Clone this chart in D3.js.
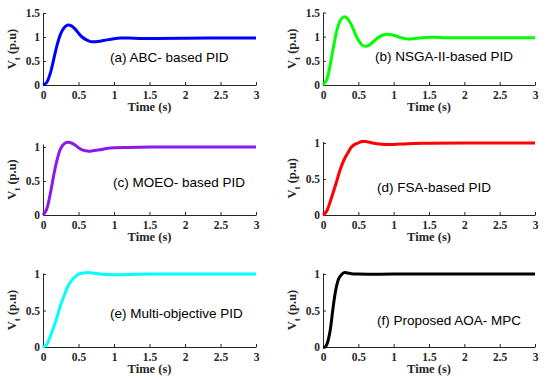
<!DOCTYPE html>
<html>
<head>
<meta charset="utf-8">
<script src="https://cdn.jsdelivr.net/npm/d3@7"></script>
<style>
  html, body { margin: 0; padding: 0; background: #fff; }
  svg { display: block; }
</style>
</head>
<body>
<div id="chart"></div>
<script>
// step responses (time in s, terminal voltage in p.u)
const timeA = [0, 0.05, 0.1, 0.15, 0.2, 0.25, 0.3, 0.35, 0.4, 0.45, 0.5, 0.55, 0.6, 0.65, 0.7, 0.75, 0.8, 0.9, 1.0, 1.1, 1.2, 1.4, 1.6, 2.0, 2.5, 3.0];
const voltA = [0, 0.05, 0.23, 0.53, 0.84, 1.07, 1.2, 1.25, 1.23, 1.17, 1.08, 1.0, 0.95, 0.915, 0.9, 0.9, 0.91, 0.94, 0.965, 0.98, 0.98, 0.97, 0.97, 0.975, 0.98, 0.98];

const timeB = [0, 0.05, 0.1, 0.15, 0.2, 0.25, 0.3, 0.35, 0.4, 0.45, 0.5, 0.55, 0.6, 0.65, 0.7, 0.8, 0.9, 1.0, 1.1, 1.2, 1.3, 1.4, 1.5, 1.7, 2.0, 2.5, 3.0];
const voltB = [0, 0.1, 0.4, 0.8, 1.15, 1.35, 1.41, 1.37, 1.25, 1.08, 0.93, 0.83, 0.8, 0.82, 0.88, 1.0, 1.05, 1.03, 0.98, 0.95, 0.96, 0.98, 0.99, 0.98, 0.98, 0.98, 0.98];

const timeC = [0, 0.05, 0.1, 0.15, 0.2, 0.25, 0.3, 0.35, 0.4, 0.45, 0.5, 0.55, 0.6, 0.65, 0.7, 0.8, 0.9, 1.0, 1.2, 1.5, 2.0, 3.0];
const voltC = [0, 0.08, 0.3, 0.58, 0.82, 0.98, 1.05, 1.07, 1.06, 1.03, 0.99, 0.96, 0.945, 0.94, 0.945, 0.96, 0.98, 0.99, 0.995, 1.0, 1.0, 1.0];

const timeD = [0, 0.05, 0.1, 0.15, 0.2, 0.25, 0.3, 0.35, 0.4, 0.45, 0.5, 0.55, 0.6, 0.7, 0.8, 0.9, 1.0, 1.2, 1.5, 2.0, 3.0];
const voltD = [0, 0.05, 0.18, 0.33, 0.49, 0.65, 0.77, 0.86, 0.94, 0.98, 1.0, 1.02, 1.02, 1.0, 0.985, 0.98, 0.98, 0.99, 0.995, 1.0, 1.0];

const timeE = [0, 0.05, 0.1, 0.15, 0.2, 0.25, 0.3, 0.35, 0.4, 0.45, 0.5, 0.6, 0.7, 0.8, 0.9, 1.0, 1.2, 1.5, 2.0, 3.0];
const voltE = [0, 0.03, 0.14, 0.27, 0.42, 0.58, 0.71, 0.83, 0.91, 0.96, 1.0, 1.02, 1.015, 1.0, 0.995, 0.99, 0.995, 1.0, 1.0, 1.0];

const timeF = [0, 0.03, 0.06, 0.1, 0.14, 0.18, 0.22, 0.26, 0.3, 0.35, 0.4, 0.5, 1.0, 2.0, 3.0];
const voltF = [0, 0.0, 0.05, 0.22, 0.52, 0.78, 0.93, 0.99, 1.02, 1.015, 1.005, 1.0, 1.0, 1.0, 1.0];

const xTicks = [0, 0.5, 1, 1.5, 2, 2.5, 3];
const xTickLabels = ['0', '0.5', '1', '1.5', '2', '2.5', '3'];
const yTicksTall = [0, 0.5, 1, 1.5];
const yTicksShort = [0, 0.5, 1];
const captions = ['(a) ABC- based PID', '(b) NSGA-II-based PID', '(c) MOEO- based PID',
                  '(d) FSA-based PID', '(e) Multi-objective PID', '(f) Proposed AOA- MPC'];
const colors = ['#0000ff', '#00ff00', '#8b1ae8', '#ff0000', '#00ffff', '#000000'];

const W = 550, H = 380;
const svg = d3.select('#chart').append('svg').attr('width', W).attr('height', H);

// panel boxes: left/right pixel of x axis, pixel of y=0 and y=top
const panels = [
  { t: timeA, v: voltA, x0: 43, x1: 256, y0: 85, y1: 13, yMax: 1.5, yt: yTicksTall, cap: [110, 62] },
  { t: timeB, v: voltB, x0: 323, x1: 535, y0: 85, y1: 12.5, yMax: 1.5, yt: yTicksTall, cap: [375, 61] },
  { t: timeC, v: voltC, x0: 43, x1: 256, y0: 215, y1: 144, yMax: 1.045, yt: yTicksShort, cap: [113, 187] },
  { t: timeD, v: voltD, x0: 323, x1: 535, y0: 215, y1: 141.5, yMax: 1.02, yt: yTicksShort, cap: [377, 192] },
  { t: timeE, v: voltE, x0: 43, x1: 256, y0: 347, y1: 273, yMax: 1.015, yt: yTicksShort, cap: [110, 318] },
  { t: timeF, v: voltF, x0: 323, x1: 535, y0: 347, y1: 273, yMax: 1.015, yt: yTicksShort, cap: [377, 325] }
];

const axisColor = '#262626';
const tickFont = '"Liberation Serif", "Times New Roman", serif';

panels.forEach((p, i) => {
  const x = d3.scaleLinear().domain([0, 3]).range([p.x0, p.x1]);
  const y = d3.scaleLinear().domain([0, p.yMax]).range([p.y0, p.y1]);
  const g = svg.append('g');

  // x axis (ticks point inward, like matlab)
  const xAxis = g.append('g')
    .attr('transform', `translate(0,${p.y0})`)
    .call(d3.axisBottom(x).tickValues(xTicks).tickFormat((d, k) => xTickLabels[k])
      .tickSizeInner(-3).tickSizeOuter(0).tickPadding(6));
  xAxis.select('.domain').attr('stroke', axisColor);
  xAxis.selectAll('.tick line').attr('stroke', axisColor);
  xAxis.selectAll('.tick text')
    .attr('y', 14).attr('dy', 0)
    .attr('font-family', tickFont).attr('font-weight', 'bold').attr('font-size', 11.5).attr('fill', axisColor);

  // y axis
  const yAxis = g.append('g')
    .attr('transform', `translate(${p.x0},0)`)
    .call(d3.axisLeft(y).tickValues(p.yt).tickFormat(d3.format('~g'))
      .tickSizeInner(-3).tickSizeOuter(0));
  yAxis.select('.domain').attr('stroke', axisColor);
  yAxis.selectAll('.tick line').attr('stroke', axisColor);
  yAxis.selectAll('.tick text')
    .attr('x', -3)
    .attr('font-family', tickFont).attr('font-weight', 'bold').attr('font-size', 11.5).attr('fill', axisColor);

  // labels
  g.append('text')
    .attr('x', (p.x0 + p.x1) / 2).attr('y', p.y0 + 26)
    .attr('text-anchor', 'middle')
    .attr('font-family', tickFont).attr('font-weight', 'bold').attr('font-size', 12.5).attr('fill', axisColor)
    .text('Time (s)');

  const yl = g.append('text')
    .attr('transform', `translate(${p.x0 - 27},${(p.y0 + p.y1) / 2}) rotate(-90)`)
    .attr('text-anchor', 'middle')
    .attr('font-family', tickFont).attr('font-weight', 'bold').attr('font-size', 12.5).attr('fill', axisColor);
  yl.append('tspan').text('V');
  yl.append('tspan').attr('font-size', 9).attr('dy', 4).text('t');
  yl.append('tspan').attr('dy', -4).text(' (p.u)');

  // response curve
  const pts = p.t.map((tv, k) => [tv, p.v[k]]);
  g.append('path')
    .datum(pts)
    .attr('fill', 'none')
    .attr('stroke', colors[i])
    .attr('stroke-width', 3)
    .attr('stroke-linejoin', 'round')
    .attr('d', d3.line().x(d => x(d[0])).y(d => y(d[1])).curve(d3.curveCatmullRom.alpha(0.5)));

  g.append('text')
    .attr('x', p.cap[0]).attr('y', p.cap[1])
    .attr('font-family', '"Liberation Sans", Arial, sans-serif').attr('font-size', 13.5).attr('fill', '#000')
    .text(captions[i]);
});
</script>
</body>
</html>
